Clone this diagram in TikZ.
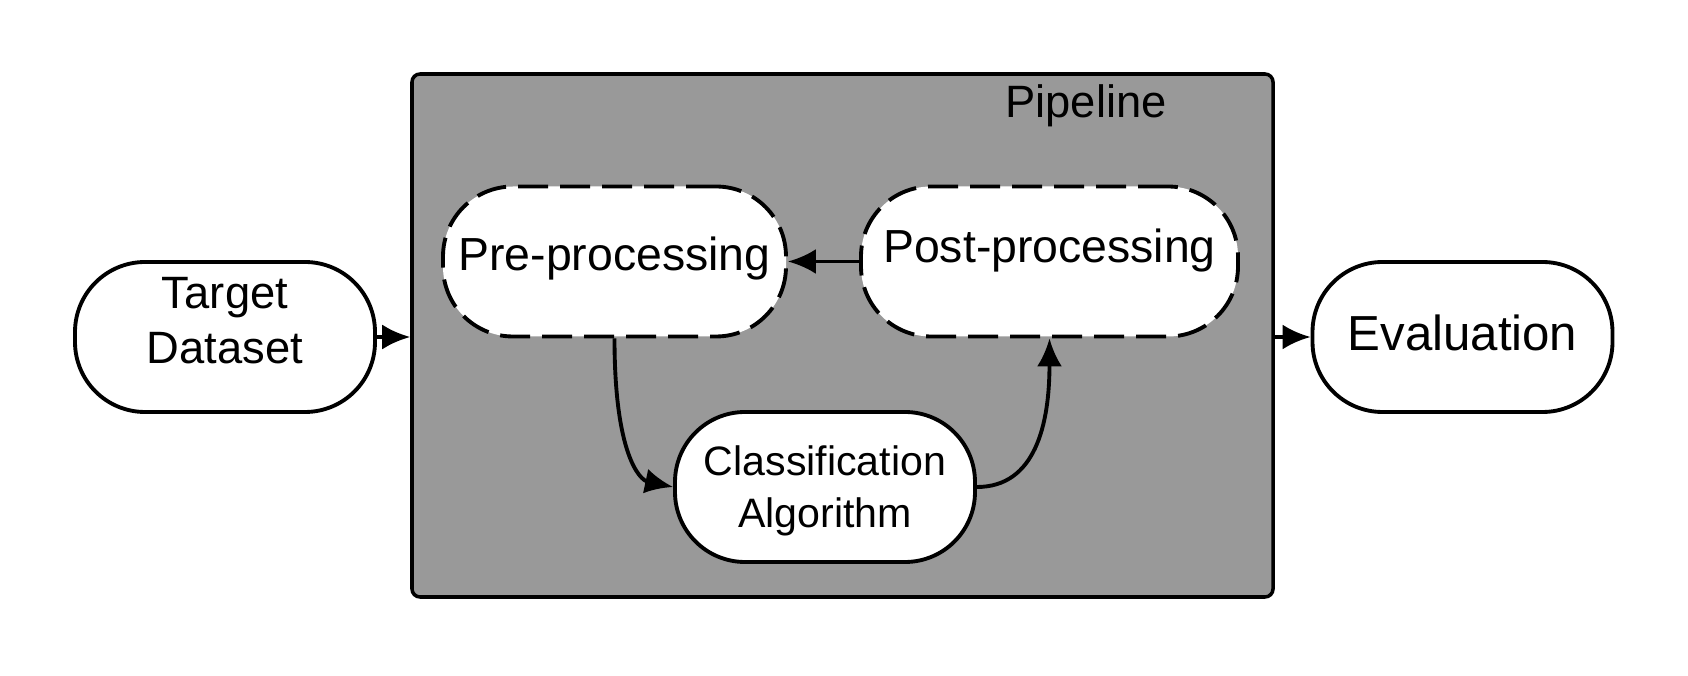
\documentclass[tikz,border=0pt]{standalone}
\usepackage{fontspec}
\setmainfont{Liberation Sans}
\usetikzlibrary{arrows.meta}
\definecolor{pipegray}{RGB}{153,153,153}
\begin{document}
\begin{tikzpicture}[
  box/.style={draw,line width=1.1pt,fill=white,rounded corners=0.7cm,minimum width=3cm,minimum height=1.5cm,inner sep=0pt},
  dbox/.style={box,dash pattern=on 0.3cm off 0.12cm},
  txt/.style={inner sep=0pt,align=center,font=\fontsize{12.9}{15.6}\selectfont},
  arr/.style={line width=1.1pt,-{Latex[length=0.28cm,width=0.25cm]}}]
\useasboundingbox (0,0) rectangle (16.88,6.75);
\node[draw,line width=1pt,fill=pipegray,rounded corners=0.08cm,minimum width=8.61cm,minimum height=5.23cm] (pipe) at (8.425,3.395) {};
\node[txt] (pipelabel) at (10.86,5.69) {Pipeline};
\node[box] (target) at (2.25,3.38) {};
\node[txt] (targettext) at ([yshift=0.16cm]target.center) {Target\\Dataset};
\node[box] (eval) at (14.625,3.38) {};
\node[txt,font=\fontsize{14}{17}\selectfont] (evaltext) at ([yshift=0.04cm]eval.center) {Evaluation};
\node[dbox,minimum width=3.43cm] (pre) at (6.145,4.135) {};
\node[txt,font=\fontsize{13.2}{16}\selectfont] (pretext) at ([yshift=0.03cm]pre.center) {Pre-processing};
\node[dbox,minimum width=3.77cm] (post) at (10.495,4.135) {};
\node[txt,font=\fontsize{13.2}{16}\selectfont] (posttext) at ([yshift=0.11cm]post.center) {Post-processing};
\node[box] (cls) at (8.25,1.88) {};
\node[txt,font=\fontsize{11.7}{15}\selectfont] (clstext) at ([yshift=-0.04cm]cls.center) {Classification\\Algorithm};
% connectors
\draw[arr] (target.east) -- (target.east -| pipe.west);
\draw[arr] (eval.west -| pipe.east) -- (eval.west);
\draw[arr] (post.west) -- (pre.east);
\draw[arr] (pre.south) .. controls (6.145,2.2) and (6.4,1.95) .. (cls.west);
\draw[arr] (cls.east) .. controls (10.35,1.88) and (10.495,2.5) .. (post.south);
\end{tikzpicture}
\end{document}
